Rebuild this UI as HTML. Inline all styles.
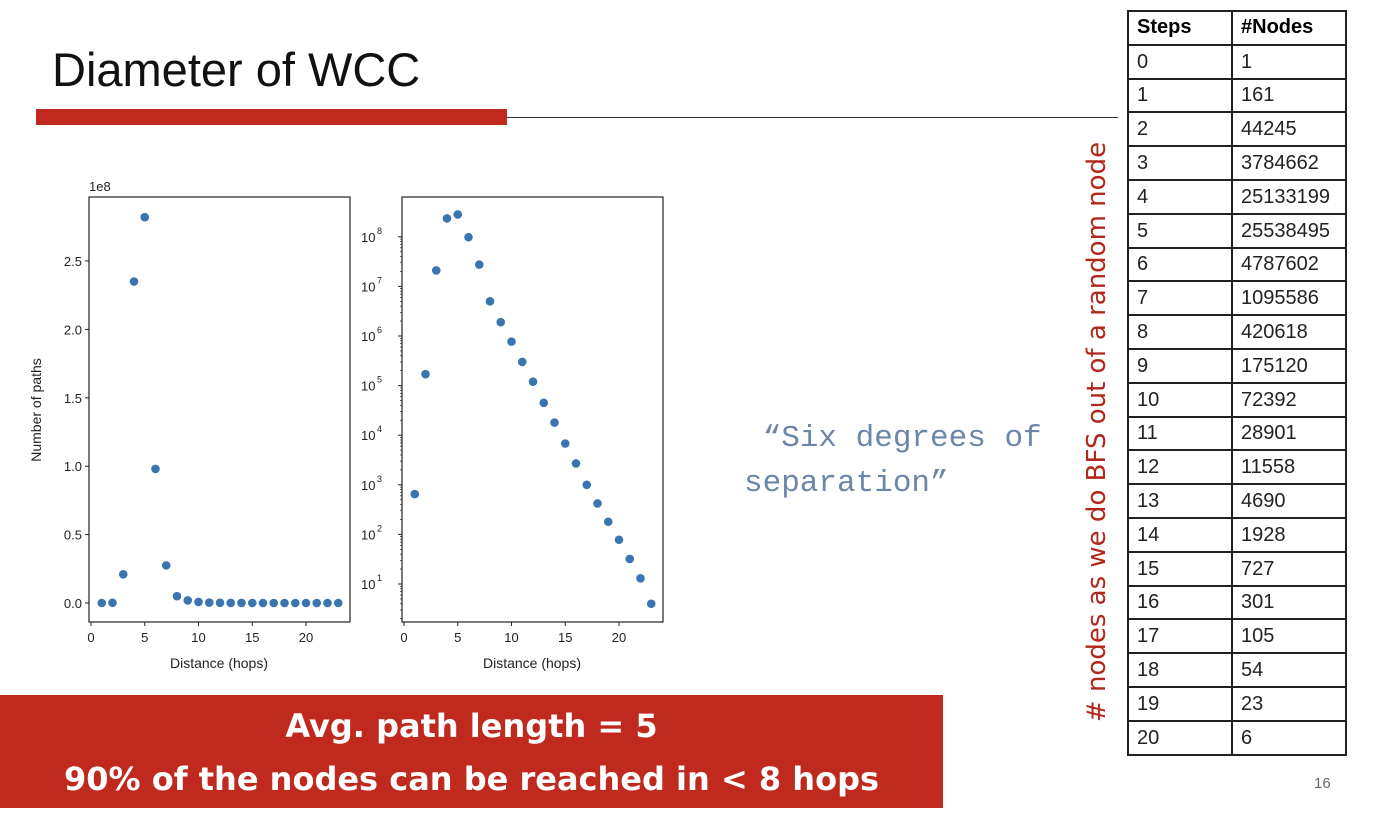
<!DOCTYPE html>
<html><head><meta charset="utf-8"><style>
body{margin:0;width:1392px;height:822px;background:#fff;position:relative;overflow:hidden;font-family:"Liberation Sans",sans-serif}
.abs{position:absolute}
table{border-collapse:collapse;position:absolute;left:1127px;top:10px;width:220px}
tr{height:33.8px}
td{border:2px solid #222;padding:0 0 0 8px;font-size:20px;color:#222;line-height:20px}
td:first-child{width:94px}
th{border:2px solid #222;text-align:left;padding-left:8px;font-size:20px}
</style></head><body>
<div class="abs" style="left:52px;top:42px;font-size:47px;color:#111">Diameter of WCC</div>
<div class="abs" style="left:36px;top:109px;width:471px;height:16px;background:#c0291d"></div>
<div class="abs" style="left:507px;top:117px;width:611px;height:1px;background:#333"></div>
<svg class="abs" style="left:0;top:0" width="700" height="690" id="charts"></svg>
<div class="abs" style="left:744px;top:416px;font-family:'Liberation Mono',monospace;font-size:31px;color:#6c86aa;line-height:45px">&nbsp;“Six degrees of<br>separation”</div>
<div class="abs" style="left:1097px;top:432px;transform:translate(-50%,-50%) rotate(-90deg);white-space:nowrap;font-family:'DejaVu Sans',sans-serif;font-size:26px;color:#b0281c"># nodes as we do BFS out of a random node</div>
<table><tbody id="tb"><tr><th>Steps</th><th>#Nodes</th></tr></tbody></table>
<div class="abs" style="left:0;top:695px;width:943px;height:113px;background:#c0291d;color:#fff;font-weight:bold;font-family:'DejaVu Sans',sans-serif;font-size:32px;text-align:center;line-height:53px;padding-top:5px;box-sizing:border-box">
<div>Avg. path length = 5</div><div>90% of the nodes can be reached in &lt; 8 hops</div></div>
<div class="abs" style="left:1314px;top:775px;font-size:15px;color:#666">16</div>
<script>
const steps=[0,1,2,3,4,5,6,7,8,9,10,11,12,13,14,15,16,17,18,19,20];
const nodes=[1,161,44245,3784662,25133199,25538495,4787602,1095586,420618,175120,72392,28901,11558,4690,1928,727,301,105,54,23,6];
const tb=document.getElementById('tb');
steps.forEach((s,i)=>{const tr=document.createElement('tr');


tr.innerHTML='<td>'+s+'</td><td>'+nodes[i]+'</td>';tb.appendChild(tr);});
const hops=[1,2,3,4,5,6,7,8,9,10,11,12,13,14,15,16,17,18,19,20,21,22,23];
const paths=[650,1.7e5,2.1e7,2.35e8,2.82e8,9.8e7,2.75e7,5e6,1.9e6,7.7e5,3e5,1.2e5,4.5e4,1.8e4,6.8e3,2.7e3,1e3,420,180,78,32,13,4];
const linTicks=[0,0.5,1.0,1.5,2.0,2.5];
const xTicks=[0,5,10,15,20];
const logTicks=[1,2,3,4,5,6,7,8];
const svg=document.getElementById('charts');const NS='http://www.w3.org/2000/svg';
function el(t,a,txt){const e=document.createElementNS(NS,t);for(const k in a)e.setAttribute(k,a[k]);if(txt!==undefined)e.textContent=txt;svg.appendChild(e);return e;}
const xL=v=>91+v*10.75, yL=v=>603-v/1e8*136.8;
const xR=v=>404+v*10.75, yR=v=>584-(Math.log10(v)-1)*49.6;
let r=el('rect',{x:89,y:197,width:261,height:425,fill:'none',stroke:'#222','stroke-width':1.2});

r=el('rect',{x:402,y:197,width:261,height:425,fill:'none',stroke:'#222','stroke-width':1.2});

xTicks.forEach(t=>{[xL,xR].forEach(f=>{el('line',{x1:f(t),x2:f(t),y1:622,y2:626,stroke:'#222'});
const tx=el('text',{x:f(t),y:642,'font-size':13,'text-anchor':'middle',fill:'#222'},t);
});});
linTicks.forEach(t=>{el('line',{x1:85,x2:89,y1:yL(t*1e8),y2:yL(t*1e8),stroke:'#222'});
const tx=el('text',{x:82,y:yL(t*1e8)+5,'font-size':13,'text-anchor':'end',fill:'#222'},t.toFixed(1));
});
logTicks.forEach(t=>{const y=yR(Math.pow(10,t));el('line',{x1:398,x2:402,y1:y,y2:y,stroke:'#222'});
const tx=el('text',{x:361,y:y+5,'font-size':13,fill:'#222'},'10');

el('text',{x:377,y:y-3,'font-size':9,fill:'#222'},t);
for(let m=2;m<10;m++){const ym=yR(m*Math.pow(10,t-1));if(ym>197&&ym<622)el('line',{x1:400,x2:402,y1:ym,y2:ym,stroke:'#222','stroke-width':0.7});}});
let t=el('text',{x:89,y:191,'font-size':13,fill:'#222'},'1e8');

t=el('text',{x:219,y:668,'font-size':14,'text-anchor':'middle',fill:'#222'},'Distance (hops)');

t=el('text',{x:532,y:668,'font-size':14,'text-anchor':'middle',fill:'#222'},'Distance (hops)');

t=el('text',{x:41,y:410,'font-size':14,'text-anchor':'middle',fill:'#222',transform:'rotate(-90 41 410)'},'Number of paths');

hops.forEach((h,i)=>{let c=el('circle',{cx:xL(h),cy:yL(paths[i]),r:4.3,fill:'#3a75b0'});

c=el('circle',{cx:xR(h),cy:yR(paths[i]),r:4.3,fill:'#3a75b0'});
});
</script>
</body></html>
